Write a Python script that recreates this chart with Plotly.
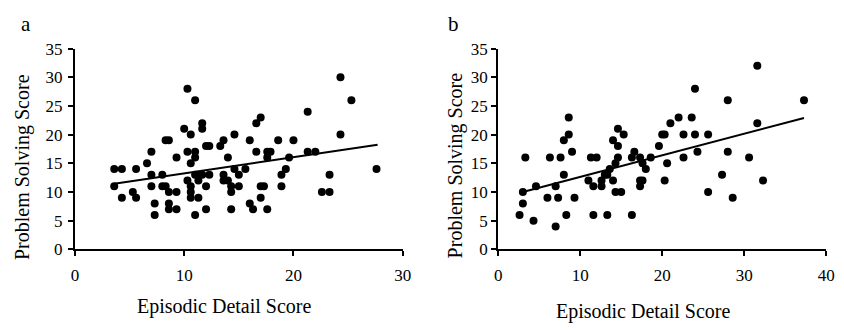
import plotly.graph_objects as go

# ---- data ----
a_x = [3.6, 4.3, 3.6, 4.3, 5.3, 5.6, 5.6, 6.6, 7.0, 7.0, 7.0, 7.3, 7.3, 8.0, 8.0, 8.3, 8.3, 8.6, 8.6, 8.6,
       8.6, 9.3, 9.3, 9.3, 10.0, 10.3, 10.3, 10.3, 10.6, 10.6, 10.6, 10.6, 10.6, 11.0, 11.0, 11.0, 11.0, 11.0,
       11.3, 11.3, 11.3, 11.65, 11.65, 11.65, 12.0, 12.0, 12.0, 12.3, 12.3, 13.3, 13.6, 13.6, 13.6, 14.0, 14.0,
       14.3, 14.3, 14.3, 14.6, 14.6, 15.0, 15.0, 15.6, 16.0, 16.0, 16.3, 16.6, 17.0, 16.6, 17.0, 17.3, 17.0,
       17.6, 17.6, 17.9, 17.6, 18.6, 18.9, 18.9, 19.3, 19.6, 20.0, 21.3, 21.3, 22.0, 22.6, 23.3, 23.3, 24.3,
       24.3, 25.3, 27.6]
a_y = [14, 14, 11, 9, 10, 14, 9, 15, 17, 13, 11, 8, 6, 13, 11, 11, 19, 19, 10, 8,
       7, 16, 10, 7, 21, 28, 17, 12, 20, 15, 11, 10, 9, 26, 17, 16, 13, 6,
       13, 12, 9, 22, 21, 13, 18, 11, 7, 18, 13, 18, 19, 13, 12, 16, 12,
       11, 10, 7, 20, 14, 13, 11, 14, 19, 8, 7, 22, 23, 17, 11, 11, 9,
       17, 16, 17, 7, 19, 13, 11, 14, 16, 19, 24, 17, 17, 10, 10, 13, 30,
       20, 26, 14]
a_trend_x = [3.6, 27.7]
a_trend_y = [11.45, 18.25]

b_x = [2.6, 3.0, 3.0, 3.3, 4.3, 4.6, 6.0, 6.3, 7.0, 7.0, 7.3, 7.6, 8.0, 8.0, 8.3, 8.6, 8.6, 9.0, 9.3,
       11.0, 11.3, 11.6, 11.6, 12.0, 12.6, 12.6, 13.0, 13.3, 13.3, 13.6, 14.0, 14.0, 14.3, 14.3, 14.6,
       14.6, 14.6, 15.0, 15.3, 16.3, 16.3, 16.6, 17.3, 17.3, 17.3, 17.6, 17.6, 18.0, 18.6, 19.6, 20.0,
       20.3, 20.3, 20.6, 21.0, 22.0, 22.6, 22.6, 23.6, 24.0, 24.0, 24.3, 25.6, 25.6, 27.3, 28.0, 28.0,
       28.6, 30.6, 31.6, 31.6, 32.3, 37.3]
b_y = [6, 8, 10, 16, 5, 11, 9, 16, 11, 4, 9, 16, 13, 19, 6, 20, 23, 17, 9,
       12, 16, 11, 6, 16, 11, 12, 13, 6, 13, 14, 19, 12, 15, 10, 21,
       18, 16, 10, 20, 6, 16, 17, 16, 12, 11, 15, 12, 14, 16, 18, 20,
       20, 12, 15, 22, 23, 16, 20, 23, 28, 20, 17, 20, 10, 13, 26, 17,
       9, 16, 32, 22, 12, 26]
b_trend_x = [3.0, 37.3]
b_trend_y = [10.0, 22.9]

y_ticks = [0, 5, 10, 15, 20, 25, 30, 35]
a_x_ticks = [0, 10, 20, 30]
b_x_ticks = [0, 10, 20, 30, 40]

panel_labels = ["a", "b"]
x_title = "Episodic Detail Score"
y_title = "Problem Solving Score"

# ---- figure ----
W, H = 844, 330
FONT = "Liberation Serif"

fig = go.Figure()
marker = dict(color="black", size=8)
line = dict(color="black", width=2)

fig.add_trace(go.Scatter(x=a_x, y=a_y, mode="markers", marker=marker, xaxis="x", yaxis="y", hoverinfo="skip"))
fig.add_trace(go.Scatter(x=a_trend_x, y=a_trend_y, mode="lines", line=line, xaxis="x", yaxis="y", hoverinfo="skip"))
fig.add_trace(go.Scatter(x=b_x, y=b_y, mode="markers", marker=marker, xaxis="x2", yaxis="y2", hoverinfo="skip"))
fig.add_trace(go.Scatter(x=b_trend_x, y=b_trend_y, mode="lines", line=line, xaxis="x2", yaxis="y2", hoverinfo="skip"))

def px_x(p):
    return p / W

def px_y(p):
    return 1 - p / H

axis_common = dict(showline=True, linecolor="black", linewidth=2, ticks="outside", ticklen=5,
                   tickwidth=2, tickcolor="black", showgrid=False, zeroline=False,
                   tickfont=dict(family=FONT, size=17, color="black"), fixedrange=True)

y_dom = [px_y(255), px_y(42)]
fig.update_layout(
    width=W, height=H, margin=dict(l=0, r=0, t=0, b=0),
    paper_bgcolor="white", plot_bgcolor="white", showlegend=False,
    font=dict(family=FONT, color="black"),
    xaxis=dict(domain=[px_x(72), px_x(405)], range=[0, 30], tickvals=a_x_ticks, anchor="y",
               ticklabelstandoff=4, **axis_common),
    yaxis=dict(domain=y_dom, range=[0, 35], tickvals=y_ticks, anchor="x", ticklabelstandoff=2, **axis_common),
    xaxis2=dict(domain=[px_x(502), px_x(835)], range=[0, 40], tickvals=b_x_ticks, anchor="y2",
                ticklabelstandoff=4, **axis_common),
    yaxis2=dict(domain=y_dom, range=[0, 35], tickvals=y_ticks, anchor="x2", **axis_common),
)

def note(text, x, y, size, angle=0):
    return dict(text=text, x=px_x(x), y=px_y(y), xref="paper", yref="paper", xanchor="center",
                yanchor="middle", textangle=angle, showarrow=False,
                font=dict(family=FONT, size=size, color="black"))

ann = [
    note(panel_labels[0], 22, 16, 21),
    note(panel_labels[1], 457, 16, 21),
    note(x_title, 224, 316, 20),
    note(x_title, 650, 321, 20),
    note(y_title, 19, 168, 20, -90),
    note(y_title, 458, 166, 20, -90),
]
fig.update_layout(annotations=ann)

fig.write_html("out.html", config={"displayModeBar": False},
               post_script="document.body.style.margin='0';document.body.style.overflow='hidden';")
